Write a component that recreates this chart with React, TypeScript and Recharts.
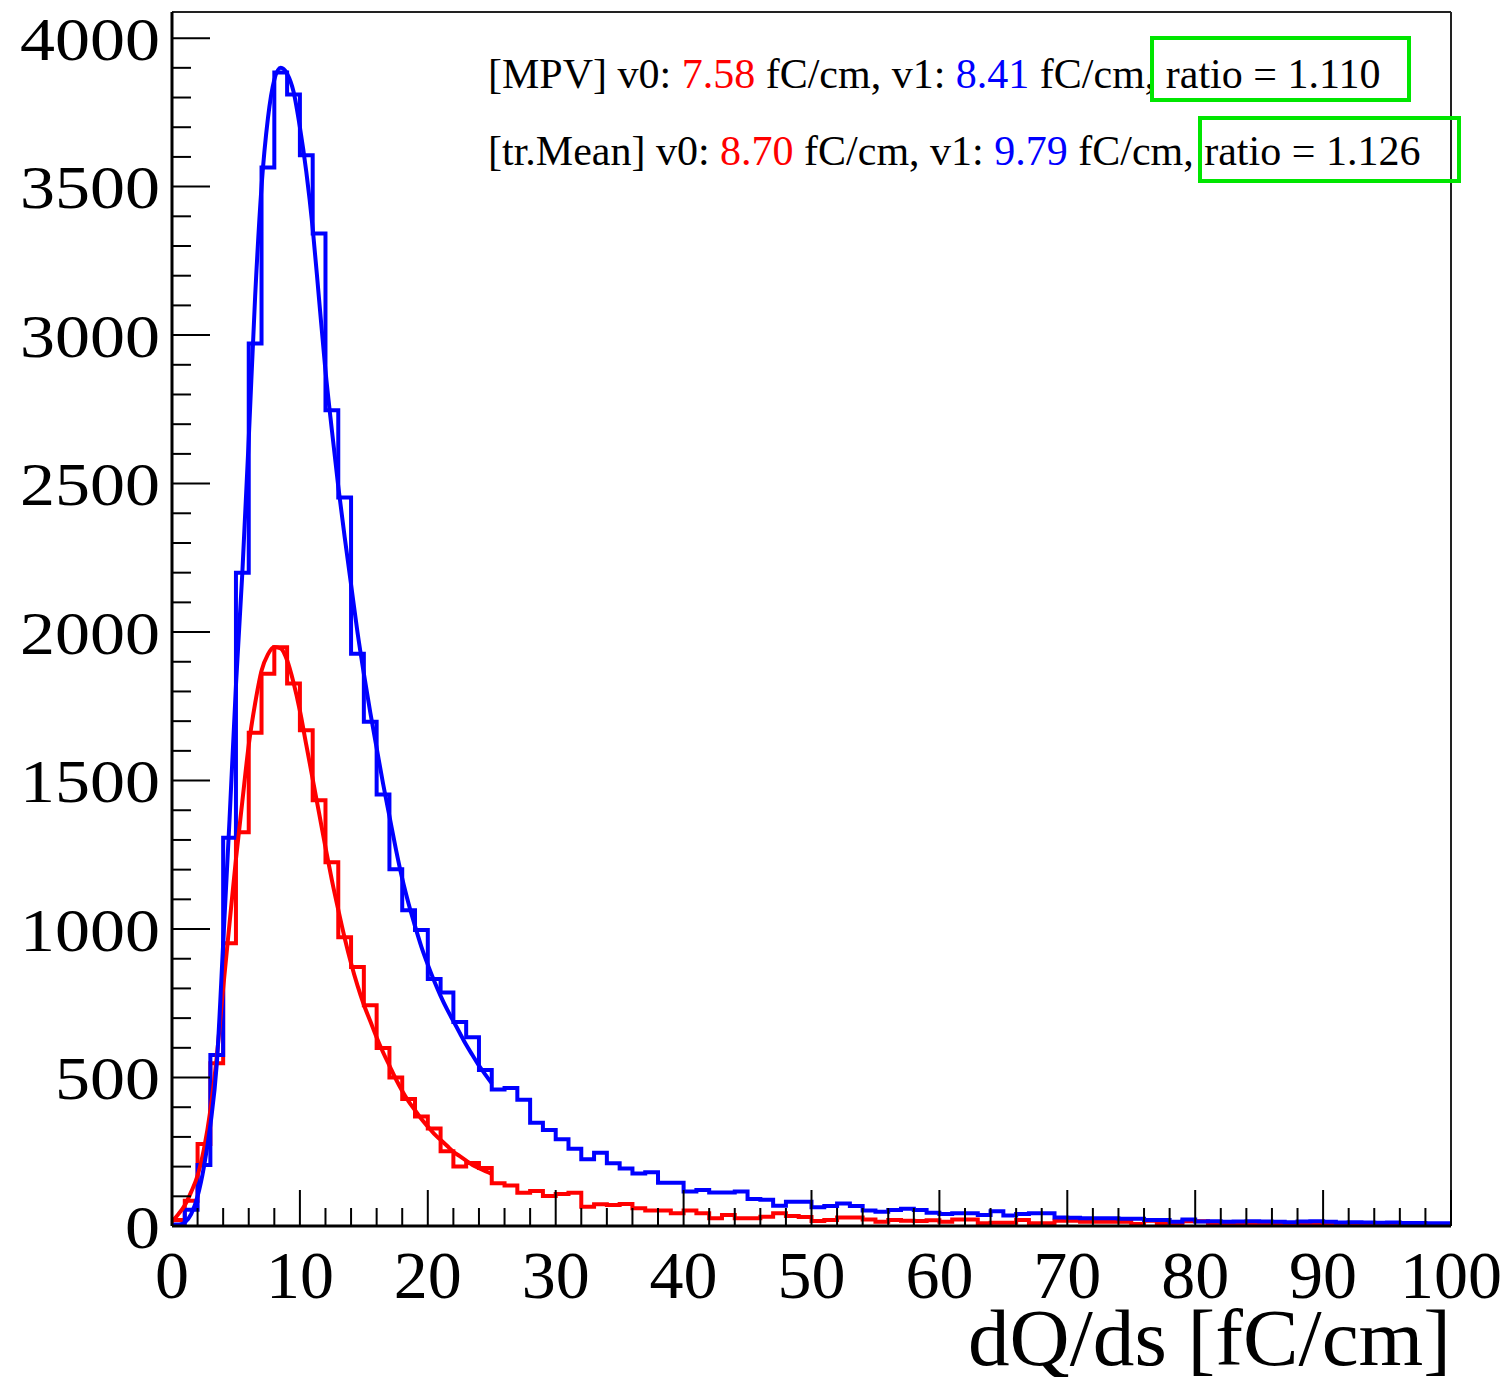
import React from 'react'
import { ComposedChart, Line, XAxis, YAxis, ReferenceLine } from 'recharts'

// ── 寸法 ────────────────────────────────────────────────────────
const W = 1506
const H = 1377
const Y_MAX = 4088
const SERIF = '"Liberation Serif", "Times New Roman", serif'

// ── データ (1 fC/cm ビン, 0〜100) ────────────────────────────────
const blueCounts = [
  5, 55, 205, 576, 1307, 2200, 2972, 3564, 3884, 3810,
  3606, 3342, 2747, 2453, 1927, 1698, 1453, 1201, 1063, 997,
  832, 786, 687, 636, 525, 460, 465, 425, 348, 323,
  292, 260, 225, 247, 211, 194, 177, 181, 146, 146,
  116, 121, 113, 113, 116, 91, 88, 68, 82, 82,
  63, 67, 76, 67, 52, 48, 54, 58, 54, 45,
  40, 43, 43, 37, 50, 35, 40, 43, 43, 29,
  28, 26, 26, 26, 24, 24, 20, 20, 14, 22,
  15, 16, 14, 15, 16, 15, 14, 13, 15, 16,
  14, 12, 13, 12, 11, 12, 10, 10, 9, 9,
]

const redCounts = [
  20, 85, 276, 548, 952, 1326, 1661, 1860, 1949, 1827,
  1669, 1434, 1225, 972, 872, 743, 599, 500, 428, 369,
  328, 252, 200, 212, 195, 144, 136, 112, 118, 101,
  108, 112, 65, 73, 71, 74, 60, 52, 52, 43,
  52, 43, 26, 37, 26, 26, 31, 43, 34, 30,
  17, 20, 29, 29, 22, 14, 20, 18, 17, 19,
  14, 22, 22, 9, 11, 11, 20, 9, 9, 18,
  18, 14, 14, 14, 14, 7, 18, 7, 7, 16,
  16, 9, 8, 10, 9, 8, 9, 10, 8, 9,
  8, 9, 8, 7, 8, 9, 8, 7, 6, 4,
]

// フィット曲線 (0〜25 の範囲)
const fitX = [
  0, 0.5, 1, 1.5, 2, 2.5, 3, 3.5, 4, 4.5,
  5, 5.5, 6, 6.5, 7, 7.5, 8, 8.5, 9, 9.5,
  10, 10.5, 11, 11.5, 12, 12.5, 13, 13.5, 14, 14.5,
  15, 15.5, 16, 16.5, 17, 17.5, 18, 18.5, 19, 19.5,
  20, 20.5, 21, 21.5, 22, 22.5, 23, 23.5, 24, 24.5,
  25,
]

const blueFit = [
  0, 3, 12, 40, 100, 200, 340, 545, 950, 1370,
  1820, 2200, 2650, 3130, 3500, 3730, 3860, 3900, 3880, 3820,
  3700, 3550, 3360, 3120, 2880, 2680, 2490, 2320, 2160, 2000,
  1860, 1730, 1610, 1490, 1380, 1270, 1170, 1085, 1010, 940,
  880, 825, 775, 730, 690, 650, 610, 575, 540, 510,
  480,
]

const redFit = [
  15, 40, 70, 115, 170, 260, 390, 570, 800, 1020,
  1235, 1430, 1620, 1760, 1870, 1925, 1950, 1945, 1905, 1830,
  1735, 1620, 1505, 1390, 1275, 1165, 1065, 970, 885, 810,
  745, 690, 635, 585, 540, 495, 455, 420, 390, 360,
  335, 310, 290, 270, 250, 235, 220, 205, 195, 185,
  175,
]

// 目盛り
const xTicks = [
  0, 2, 4, 6, 8, 10, 12, 14, 16, 18, 20, 22, 24, 26, 28, 30, 32, 34, 36, 38,
  40, 42, 44, 46, 48, 50, 52, 54, 56, 58, 60, 62, 64, 66, 68, 70, 72, 74, 76, 78,
  80, 82, 84, 86, 88, 90, 92, 94, 96, 98, 100,
]
const yTicks = [
  0, 100, 200, 300, 400, 500, 600, 700, 800, 900, 1000, 1100, 1200, 1300, 1400,
  1500, 1600, 1700, 1800, 1900, 2000, 2100, 2200, 2300, 2400, 2500, 2600, 2700,
  2800, 2900, 3000, 3100, 3200, 3300, 3400, 3500, 3600, 3700, 3800, 3900, 4000,
]

// ── ヘルパー ────────────────────────────────────────────────────
function stepData(counts: number[]) {
  const pts = counts.map((c, i) => ({ x: i, y: c }))
  pts.push({ x: counts.length, y: counts[counts.length - 1] })
  return pts
}

function fitData(vals: number[]) {
  return fitX.map((x, i) => ({ x, y: vals[i] }))
}

// eslint-disable-next-line @typescript-eslint/no-explicit-any
function XTick({ x, y, payload }: any) {
  const v = payload.value
  const major = v % 10 === 0
  return (
    <g>
      <line x1={x} x2={x} y1={y} y2={y - (major ? 36 : 18)} stroke="#000" strokeWidth={2} />
      {major && (
        <text x={x} y={y + 72} textAnchor="middle" fontSize={68} fontFamily={SERIF} fill="#000">
          {v}
        </text>
      )}
    </g>
  )
}

// eslint-disable-next-line @typescript-eslint/no-explicit-any
function YTick({ x, y, payload }: any) {
  const v = payload.value
  const major = v % 500 === 0
  const label = String(v)
  return (
    <g>
      <line x1={x} x2={x + (major ? 38 : 19)} y1={y} y2={y} stroke="#000" strokeWidth={2} />
      {major && (
        <text
          x={x - 12}
          y={y}
          dy="0.35em"
          textAnchor="end"
          fontSize={62}
          fontFamily={SERIF}
          fill="#000"
          textLength={label.length * 35}
          lengthAdjust="spacingAndGlyphs"
        >
          {label}
        </text>
      )}
    </g>
  )
}

// ── メイン ──────────────────────────────────────────────────────
export default function App() {
  const green = '#00e600'
  return (
    <div style={{ position: 'absolute', left: 0, top: 0, width: W, height: H, background: '#fff' }}>
      <ComposedChart width={W} height={H} margin={{ top: 12, right: 55, left: 0, bottom: 0 }}>
        <XAxis
          type="number"
          dataKey="x"
          domain={[0, 100]}
          ticks={xTicks}
          interval={0}
          tickSize={0}
          tickMargin={0}
          tickLine={false}
          tick={<XTick />}
          axisLine={{ stroke: '#000', strokeWidth: 3 }}
          height={151}
          allowDataOverflow
        />
        <YAxis
          type="number"
          domain={[0, Y_MAX]}
          ticks={yTicks}
          interval={0}
          tickSize={0}
          tickMargin={0}
          tickLine={false}
          tick={<YTick />}
          axisLine={{ stroke: '#000', strokeWidth: 3 }}
          width={172}
          allowDataOverflow
        />
        <ReferenceLine y={Y_MAX} stroke="#222" strokeWidth={2} />
        <ReferenceLine x={100} stroke="#222" strokeWidth={2} />

        {/* ヒストグラム */}
        <Line data={stepData(redCounts)} dataKey="y" type="stepAfter" stroke="#ff0000" strokeWidth={4} dot={false} isAnimationActive={false} />
        <Line data={stepData(blueCounts)} dataKey="y" type="stepAfter" stroke="#0000ff" strokeWidth={4} dot={false} isAnimationActive={false} />

        {/* フィット */}
        <Line data={fitData(redFit)} dataKey="y" type="monotone" stroke="#ff0000" strokeWidth={4} dot={false} isAnimationActive={false} />
        <Line data={fitData(blueFit)} dataKey="y" type="monotone" stroke="#0000ff" strokeWidth={4} dot={false} isAnimationActive={false} />
      </ComposedChart>

      {/* 注記 */}
      <svg width={W} height={H} style={{ position: 'absolute', left: 0, top: 0, pointerEvents: 'none' }}>
        <text x={488} y={88} fontSize={42} fontFamily={SERIF} fill="#000">
          [MPV] v0: <tspan fill="#ff0000">7.58</tspan> fC/cm, v1: <tspan fill="#0000ff">8.41</tspan> fC/cm, ratio = 1.110
        </text>
        <text x={488} y={165} fontSize={42} fontFamily={SERIF} fill="#000">
          [tr.Mean] v0: <tspan fill="#ff0000">8.70</tspan> fC/cm, v1: <tspan fill="#0000ff">9.79</tspan> fC/cm, ratio = 1.126
        </text>
        <rect x={1152} y={38} width={257} height={62} fill="none" stroke={green} strokeWidth={4} />
        <rect x={1200} y={118} width={259} height={63} fill="none" stroke={green} strokeWidth={4} />
        <text
          x={1451}
          y={1365}
          textAnchor="end"
          fontSize={80}
          fontFamily={SERIF}
          fill="#000"
          textLength={483}
          lengthAdjust="spacingAndGlyphs"
        >
          dQ/ds [fC/cm]
        </text>
      </svg>
    </div>
  )
}
